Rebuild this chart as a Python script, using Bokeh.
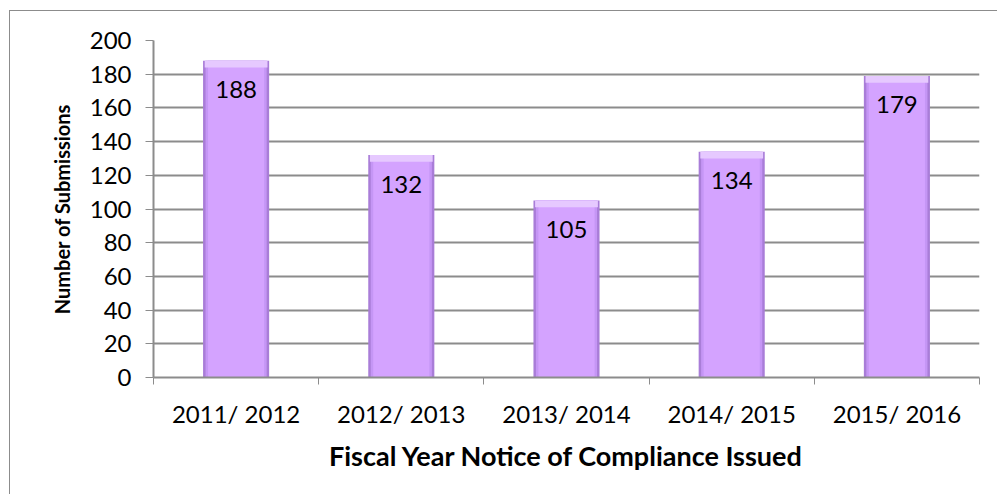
from bokeh.plotting import figure
from bokeh.models import Range1d, FixedTicker, ColumnDataSource
from bokeh.core.properties import value
from bokeh.embed import file_html
from bokeh.resources import INLINE

categories = ["2011/ 2012", "2012/ 2013", "2013/ 2014", "2014/ 2015", "2015/ 2016"]
submissions = [188, 132, 105, 134, 179]
y_ticks = [0, 20, 40, 60, 80, 100, 120, 140, 160, 180, 200]

x_pos = [i + 0.5 for i in range(len(categories))]
bevel = [v - 4 for v in submissions]
src = ColumnDataSource(dict(x=x_pos, top=submissions, bev=bevel,
                            label=[str(v) for v in submissions]))

FONT = "Lato"
GRID = "#8c8c8c"

p = figure(width=988, height=484, output_backend="svg", toolbar_location=None,
           x_range=Range1d(0, len(categories)), y_range=Range1d(0, 200),
           min_border_left=143, min_border_top=29, min_border_right=19,
           min_border_bottom=118)
p.margin = (10, 0, 0, 9)
p.styles = {"border-left": "1px solid #8c8c8c", "border-top": "1px solid #8c8c8c"}
p.outline_line_color = None
p.background_fill_color = "white"
p.border_fill_color = "white"

# bars with bevel look
p.vbar(x="x", top="top", bottom=0, width=0.40, source=src,
       fill_color="#A97DD8", line_color=None)
p.vbar(x="x", top="top", bottom=0, width=0.37, source=src,
       fill_color="#C596F5", line_color=None)
p.vbar(x="x", top="top", bottom=0, width=0.34, source=src,
       fill_color="#D4A3FF", line_color=None)
p.vbar(x="x", top="top", bottom="bev", width=0.38, source=src,
       fill_color="#E6C9FF", line_color=None)

p.text(x="x", y="top", text="label", source=src, text_align="center",
       text_baseline="middle", y_offset=29, text_font=value(FONT),
       text_font_size="24px", text_color="black")

# x axis
xa = p.xaxis[0]
xa.ticker = FixedTicker(ticks=x_pos, minor_ticks=list(range(len(categories) + 1)))
xa.major_label_overrides = {x: c for x, c in zip(x_pos, categories)}
xa.major_tick_out = 0
xa.major_tick_in = 0
xa.minor_tick_out = 7
xa.minor_tick_in = 0
xa.minor_tick_line_color = GRID
xa.axis_line_color = GRID
xa.axis_line_width = 2
xa.major_label_text_font = FONT
xa.major_label_text_font_size = "24px"
xa.major_label_text_color = "black"
xa.major_label_standoff = 14
xa.axis_label = "Fiscal Year Notice of Compliance Issued"
xa.axis_label_text_font = FONT
xa.axis_label_text_font_style = "bold"
xa.axis_label_text_font_size = "27px"
xa.axis_label_text_color = "black"
xa.axis_label_standoff = 8

# y axis
ya = p.yaxis[0]
ya.ticker = FixedTicker(ticks=y_ticks, minor_ticks=[])
ya.major_tick_out = 8
ya.major_tick_in = 0
ya.major_tick_line_color = GRID
ya.axis_line_color = GRID
ya.axis_line_width = 2
ya.major_label_text_font = FONT
ya.major_label_text_font_size = "24px"
ya.major_label_text_color = "black"
ya.major_label_standoff = 14
ya.axis_label = "Number of Submissions"
ya.axis_label_text_font = FONT
ya.axis_label_text_font_style = "bold"
ya.axis_label_text_font_size = "20px"
ya.axis_label_text_color = "black"
ya.axis_label_standoff = 13

p.xgrid.grid_line_color = None
p.ygrid.ticker = FixedTicker(ticks=y_ticks)
p.ygrid.grid_line_color = GRID
p.ygrid.grid_line_width = 2

open("out.html", "w").write(file_html(p, INLINE))
